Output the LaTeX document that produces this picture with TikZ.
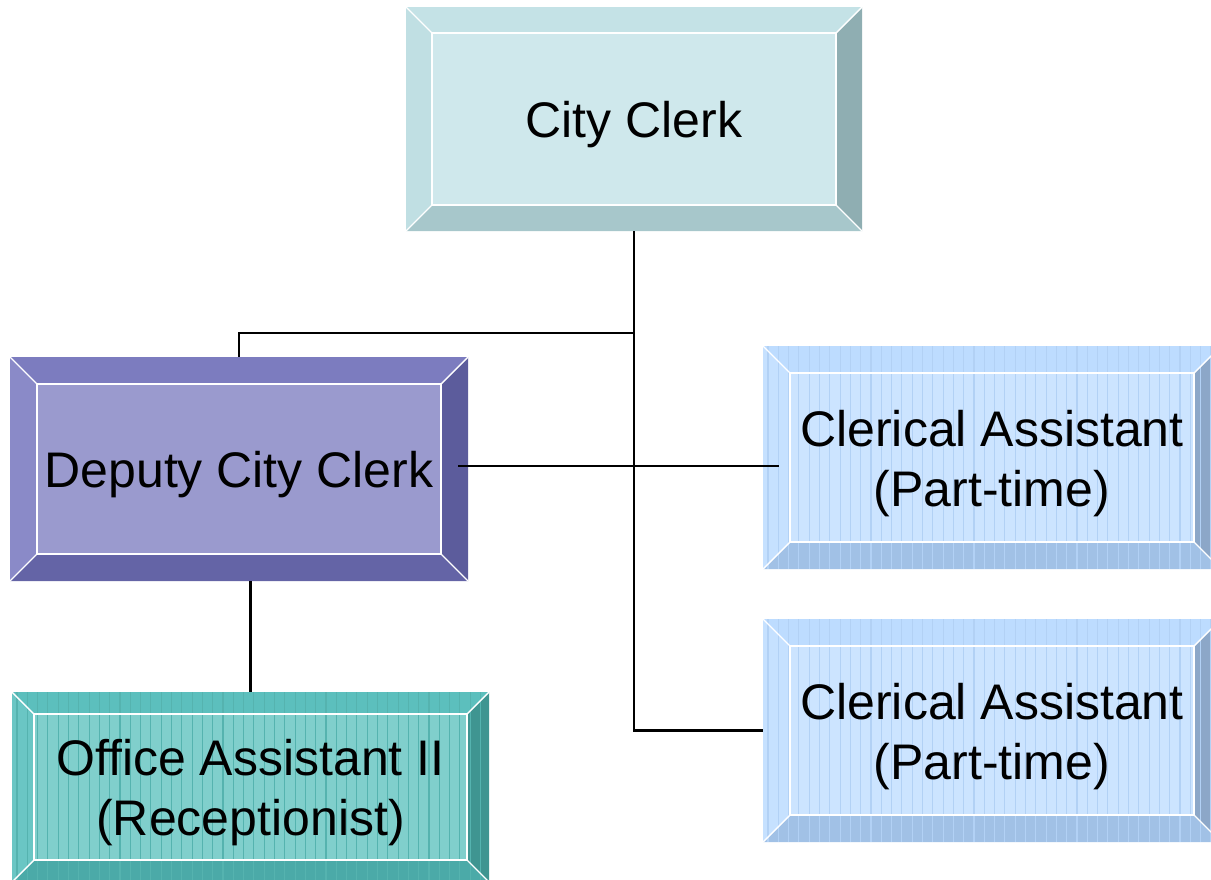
\documentclass[tikz,border=0pt]{standalone}
\usepackage{fontspec}
\setmainfont{Liberation Sans}
\usetikzlibrary{calc}

% palettes: F face, T top bevel, B bottom bevel, L left bevel, R right bevel
\definecolor{cityF}{HTML}{CFE8EC}
\definecolor{cityT}{HTML}{C4E2E6}
\definecolor{cityL}{HTML}{C0DFE3}
\definecolor{cityR}{HTML}{8FAEB2}
\definecolor{cityB}{HTML}{A7C7CB}
\definecolor{depF}{HTML}{9A9ACE}
\definecolor{depT}{HTML}{7C7CBF}
\definecolor{depL}{HTML}{8A8AC8}
\definecolor{depR}{HTML}{5C5C9C}
\definecolor{depB}{HTML}{6464A6}
\definecolor{clerF}{HTML}{CCE4FF}
\definecolor{clerT}{HTML}{BDDCFF}
\definecolor{clerL}{HTML}{C6E1FF}
\definecolor{clerR}{HTML}{8CA7C8}
\definecolor{clerB}{HTML}{A1C1E6}
\definecolor{offF}{HTML}{80CFCC}
\definecolor{offT}{HTML}{5CBFBD}
\definecolor{offL}{HTML}{6AC6C4}
\definecolor{offR}{HTML}{3F9591}
\definecolor{offB}{HTML}{4BAAA8}
\definecolor{clerStripe}{HTML}{B2D1F5}
\definecolor{offStripe}{HTML}{55B3AF}

\tikzset{
  x=1pt, y=-1pt,
  edge/.style={draw=white, line width=1.4pt},
  link/.style={draw=black, line width=2.2pt},
  boxtext/.style={inner sep=0pt, align=center, text=black,
    font=\fontsize{50}{60}\selectfont},
  plainface/.style={draw=none},
  clerstripes/.style={draw=clerStripe, line width=1.1pt},
  offstripes/.style={draw=offStripe, line width=1.1pt},
}

% bevelled box: name, x1, y1, x2, y2, bevel, palette, stripe style, text
\newcommand\bevbox[9]{%
  \fill[#7F] (#2,#3) rectangle (#4,#5);
  \fill[#7T] (#2,#3) -- (#4,#3) -- ({#4-#6},{#3+#6}) -- ({#2+#6},{#3+#6}) -- cycle;
  \fill[#7B] (#2,#5) -- (#4,#5) -- ({#4-#6},{#5-#6}) -- ({#2+#6},{#5-#6}) -- cycle;
  \fill[#7L] (#2,#3) -- ({#2+#6},{#3+#6}) -- ({#2+#6},{#5-#6}) -- (#2,#5) -- cycle;
  \fill[#7R] (#4,#3) -- ({#4-#6},{#3+#6}) -- ({#4-#6},{#5-#6}) -- (#4,#5) -- cycle;
  \begin{scope}
    \clip (#2,#3) rectangle (#4,#5);
    \foreach \xx in {0,10.3,...,470} {\draw[#8] ({#2+5+\xx},#3) -- ({#2+5+\xx},#5);}
  \end{scope}
  \draw[edge] ({#2+#6},{#3+#6}) rectangle ({#4-#6},{#5-#6});
  \draw[edge] (#2,#3) -- ({#2+#6},{#3+#6})
              (#4,#3) -- ({#4-#6},{#3+#6})
              (#2,#5) -- ({#2+#6},{#5-#6})
              (#4,#5) -- ({#4-#6},{#5-#6});
  \node[inner sep=0pt, minimum width={(#4-#2)*1pt}, minimum height={(#5-#3)*1pt}]
    (#1) at ({(#2+#4)/2},{(#3+#5)/2}) {};
  \node[boxtext] (#1-label) at ([yshift=-6pt]#1.center) {#9};
}

\begin{document}
\begin{tikzpicture}
  \useasboundingbox (0,0) rectangle (1211,879);
  \clip (0,0) rectangle (1211,879);

  \bevbox{city}{406}{7}{862}{231}{26}{city}{plainface}{City Clerk}
  \bevbox{dep}{10}{357}{468}{581}{27}{dep}{plainface}{Deputy City Clerk}
  \bevbox{clerA}{763}{346}{1221}{569}{27}{cler}{clerstripes}{Clerical Assistant\\(Part-time)}
  \bevbox{clerB}{763}{619}{1221}{842}{27}{cler}{clerstripes}{Clerical Assistant\\(Part-time)}
  \bevbox{off}{12}{692}{489}{882}{22}{off}{offstripes}{Office Assistant II\\(Receptionist)}

  % reporting lines
  \coordinate (branch) at ($(city.south)+(0,102)$);
  \draw[link] (city.south) -- (city.south |- clerB.west) -- (clerB.west);
  \draw[link] (branch) -| (dep.north);
  \coordinate (depOut) at ([xshift=-10pt,yshift=3pt]dep.east);
  \coordinate (clerIn) at (depOut -| clerA.west);
  \draw[link] (depOut) -- ([xshift=16pt]clerIn);
  \draw[link] (off.north) -- (off.north |- dep.south);
\end{tikzpicture}
\end{document}
